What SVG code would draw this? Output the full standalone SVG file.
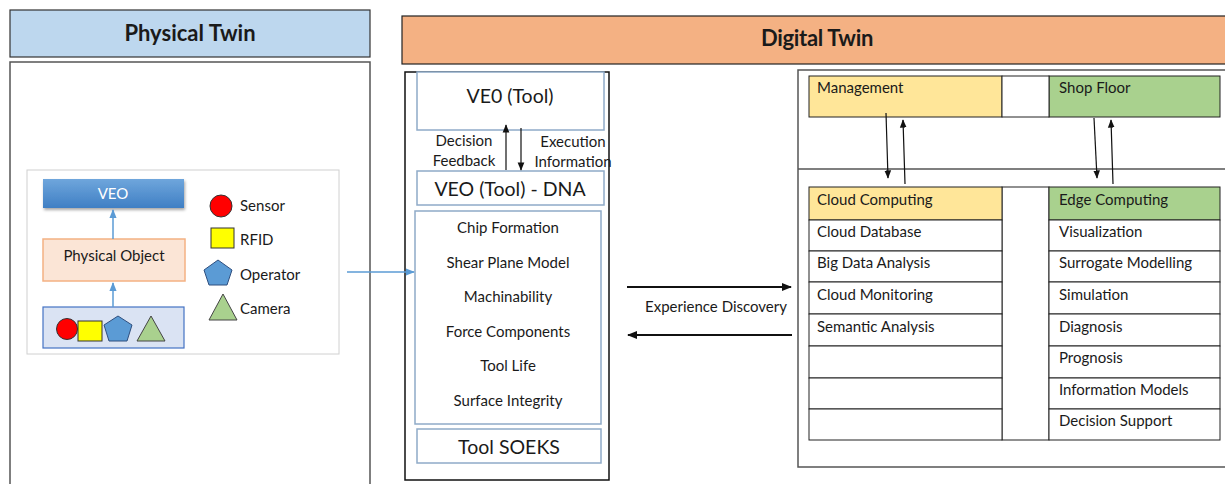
<svg xmlns="http://www.w3.org/2000/svg" width="1225" height="484" viewBox="0 0 1225 484">
<style>
text{font-family:Lato,"Open Sans","Liberation Sans",sans-serif;fill:#1a1a1a}
.h{font-weight:bold;font-size:22px;text-anchor:middle}
.t{font-size:15px}
.c{text-anchor:middle}
.big{font-size:19.5px;text-anchor:middle}
.frame{fill:#fff;stroke:#555;stroke-width:1.5}
.bl{fill:#fff;stroke:#8faac8;stroke-width:1.5}
.cell{fill:#fff;stroke:#222;stroke-width:1}
.ln{stroke:#111;stroke-width:1.2;fill:none}
.thick{stroke:#111;stroke-width:2;fill:none}
.bln{stroke:#5b9bd5;stroke-width:1.5;fill:none}
</style>
<defs>
<marker id="ah" viewBox="0 0 10 10" refX="9" refY="5" markerWidth="7" markerHeight="7" orient="auto"><path d="M0,1 L10,5 L0,9 z" fill="#111"/></marker>
<marker id="ah2" viewBox="0 0 10 10" refX="9" refY="5" markerWidth="5" markerHeight="5" orient="auto"><path d="M0,1 L10,5 L0,9 z" fill="#111"/></marker>
<marker id="ahb" viewBox="0 0 10 10" refX="9" refY="5" markerWidth="6" markerHeight="6" orient="auto"><path d="M0,1 L10,5 L0,9 z" fill="#5b9bd5"/></marker>
<linearGradient id="veo" x1="0" y1="0" x2="0" y2="1"><stop offset="0" stop-color="#6fa6dc"/><stop offset="1" stop-color="#3f7fc4"/></linearGradient>
<filter id="sh" x="-10%" y="-20%" width="130%" height="160%"><feDropShadow dx="1" dy="2" stdDeviation="1.5" flood-color="#000" flood-opacity="0.35"/></filter>
</defs>

<g id="physical-twin">
<rect x="10" y="10" width="360" height="47" fill="#bdd7ee" stroke="#333" stroke-width="1.2"/>
<text class="h" x="190" y="41">Physical Twin</text>
<rect x="10" y="62" width="360" height="440" class="frame"/>
<rect x="27" y="170" width="312" height="184" fill="#fff" stroke="#d0d0d0" stroke-width="1"/>
</g>

<g id="veo">
<rect x="43" y="179" width="141" height="29" fill="url(#veo)" filter="url(#sh)"/>
<text class="t c" x="113" y="199" style="fill:#fff">VEO</text>
</g>
<g id="physical-object">
<rect x="43" y="239" width="142" height="42" fill="#fbe5d6" stroke="#f4b183" stroke-width="1.5"/>
<text class="t c" x="114" y="261">Physical Object</text>
</g>
<g id="devices">
<rect x="43" y="307" width="141" height="41" fill="#dae3f3" stroke="#4472c4" stroke-width="1.2"/>
<circle cx="67" cy="329" r="10.5" fill="#f00" stroke="#333" stroke-width="1"/>
<rect x="78" y="321" width="24" height="20" fill="#ff0" stroke="#333" stroke-width="1"/>
<polygon points="118,316 132,325 127,341 109,341 104,325" fill="#5b9bd5" stroke="#2f4f7f" stroke-width="1"/>
<polygon points="151,316 165,341 137,341" fill="#a9d18e" stroke="#444" stroke-width="1"/>
</g>
<g id="legend">
<circle cx="221" cy="206" r="11" fill="#f00" stroke="#333" stroke-width="1"/>
<text class="t" x="240" y="211">Sensor</text>
<rect x="211" y="228" width="23" height="20" fill="#ff0" stroke="#333" stroke-width="1"/>
<text class="t" x="240" y="245">RFID</text>
<polygon points="218,260 232,270 227,285 209,285 204,270" fill="#5b9bd5" stroke="#2f4f7f" stroke-width="1"/>
<text class="t" x="240" y="280">Operator</text>
<polygon points="223,294 237,320 209,320" fill="#a9d18e" stroke="#444" stroke-width="1"/>
<text class="t" x="240" y="314">Camera</text>
</g>

<g id="digital-twin-header">
<rect x="402" y="16" width="830" height="48" fill="#f4b183" stroke="#222" stroke-width="1.2"/>
<text class="h" x="817" y="46" style="letter-spacing:-0.3px">Digital Twin</text>
</g>

<g id="veo-tool-panel">
<rect x="405" y="72" width="204" height="408" fill="#fff" stroke="#111" stroke-width="1.5"/>
</g>
<g id="veo-tool">
<rect x="417" y="72" width="187" height="58" class="bl"/>
<text class="big" x="510" y="103">VE0 (Tool)</text>
</g>
<g id="veo-tool-dna">
<rect x="417" y="171" width="187" height="34" class="bl"/>
<text class="big" x="510" y="196">VEO (Tool) - DNA</text>
</g>
<g id="dna-list">
<rect x="415" y="211" width="186" height="213" class="bl"/>
<text class="t c" x="508" y="233">Chip Formation</text>
<text class="t c" x="508" y="268">Shear Plane Model</text>
<text class="t c" x="508" y="302">Machinability</text>
<text class="t c" x="508" y="337">Force Components</text>
<text class="t c" x="508" y="371">Tool Life</text>
<text class="t c" x="508" y="406">Surface Integrity</text>
</g>
<g id="tool-soeks">
<rect x="417" y="429" width="184" height="34" class="bl"/>
<text class="big" x="509" y="454">Tool SOEKS</text>
</g>
<text class="t c" x="464" y="146">Decision</text>
<text class="t c" x="464" y="166">Feedback</text>
<text class="t c" x="573" y="147">Execution</text>
<text class="t c" x="573" y="167">Information</text>

<g id="right-panel">
<rect x="798" y="70" width="440" height="397" fill="#fff" stroke="#555" stroke-width="1.5"/>
<line x1="798" y1="169" x2="1225" y2="169" stroke="#555" stroke-width="1.5"/>
</g>
<g id="management">
<rect x="809" y="76" width="193" height="41" fill="#ffe699" stroke="#222" stroke-width="1"/>
<text class="t" x="817" y="93">Management</text>
</g>
<g id="shop-floor">
<rect x="1049" y="76" width="171" height="41" fill="#a9d18e" stroke="#222" stroke-width="1"/>
<text class="t" x="1059" y="93">Shop Floor</text>
</g>
<rect x="1002" y="76" width="47" height="41" fill="#fff" stroke="#222" stroke-width="1"/>
<rect x="1002" y="187" width="47" height="253" fill="#fff" stroke="#222" stroke-width="1"/>

<g id="cloud-computing">
<rect x="809" y="187" width="193" height="33" fill="#ffe699" stroke="#222" stroke-width="1"/>
<text class="t" x="817" y="205">Cloud Computing</text>
<rect x="809" y="220" width="193" height="31" class="cell"/>
<text class="t" x="817" y="237">Cloud Database</text>
<rect x="809" y="251" width="193" height="31" class="cell"/>
<text class="t" x="817" y="268">Big Data Analysis</text>
<rect x="809" y="282" width="193" height="32" class="cell"/>
<text class="t" x="817" y="300">Cloud Monitoring</text>
<rect x="809" y="314" width="193" height="32" class="cell"/>
<text class="t" x="817" y="332">Semantic Analysis</text>
<rect x="809" y="346" width="193" height="32" class="cell"/>
<rect x="809" y="378" width="193" height="31" class="cell"/>
<rect x="809" y="409" width="193" height="31" class="cell"/>
</g>
<g id="edge-computing">
<rect x="1049" y="187" width="171" height="33" fill="#a9d18e" stroke="#222" stroke-width="1"/>
<text class="t" x="1059" y="205">Edge Computing</text>
<rect x="1049" y="220" width="171" height="31" class="cell"/>
<text class="t" x="1059" y="237">Visualization</text>
<rect x="1049" y="251" width="171" height="31" class="cell"/>
<text class="t" x="1059" y="268">Surrogate Modelling</text>
<rect x="1049" y="282" width="171" height="32" class="cell"/>
<text class="t" x="1059" y="300">Simulation</text>
<rect x="1049" y="314" width="171" height="32" class="cell"/>
<text class="t" x="1059" y="332">Diagnosis</text>
<rect x="1049" y="346" width="171" height="32" class="cell"/>
<text class="t" x="1059" y="363">Prognosis</text>
<rect x="1049" y="378" width="171" height="31" class="cell"/>
<text class="t" x="1059" y="395">Information Models</text>
<rect x="1049" y="409" width="171" height="31" class="cell"/>
<text class="t" x="1059" y="426">Decision Support</text>
</g>

<text class="t c" x="716" y="312">Experience Discovery</text>

<g id="connectors">
<line class="bln" x1="113" y1="239" x2="113" y2="210" marker-end="url(#ahb)"/>
<line class="bln" x1="113" y1="307" x2="113" y2="283" marker-end="url(#ahb)"/>
<line class="bln" x1="347" y1="272" x2="414" y2="272" marker-end="url(#ahb)"/>
<line class="ln" x1="506" y1="170" x2="506" y2="125" marker-end="url(#ah)"/>
<line class="ln" x1="521" y1="128" x2="521" y2="170" marker-end="url(#ah)"/>
<line class="thick" x1="627" y1="287" x2="791" y2="287" marker-end="url(#ah2)"/>
<line class="thick" x1="792" y1="335" x2="628" y2="335" marker-end="url(#ah2)"/>
<line class="ln" x1="886" y1="113" x2="888" y2="178" marker-end="url(#ah)"/>
<line class="ln" x1="905" y1="184" x2="903" y2="120" marker-end="url(#ah)"/>
<line class="ln" x1="1094" y1="118" x2="1097" y2="178" marker-end="url(#ah)"/>
<line class="ln" x1="1113" y1="184" x2="1111" y2="120" marker-end="url(#ah)"/>
</g>
</svg>
